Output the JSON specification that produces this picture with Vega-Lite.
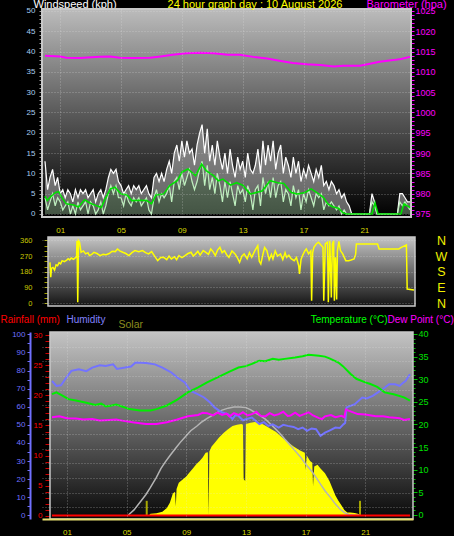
{
 "$schema": "https://vega.github.io/schema/vega-lite/v6.json",
 "background": "#000000",
 "padding": {"top": -2, "left": 0, "right": 0, "bottom": 0},
 "bounds": "flush",
 "spacing": 20,
 "config": {
  "view": {"stroke": null},
  "font": "Liberation Sans",
  "axis": {"labelFont": "Liberation Sans", "titleFont": "Liberation Sans", "titleFontWeight": "normal", "titleFontSize": 11, "labelFontSize": 8, "labelOverlap": false, "gridColor": "#e8e8e8", "gridDash": [1, 2], "gridOpacity": 0.4}
 },
 "datasets": {
  "wind": [
   {"t":0,"g":13,"s":4},{"t":0.17,"g":6,"s":1},{"t":0.33,"g":9,"s":3},{"t":0.5,"g":11,"s":5},{"t":0.67,"g":7,"s":2},{"t":0.83,"g":9,"s":4},
   {"t":1,"g":5,"s":3},{"t":1.17,"g":6,"s":1},{"t":1.33,"g":4,"s":2},{"t":1.5,"g":6,"s":3},{"t":1.67,"g":5,"s":0},{"t":1.83,"g":3,"s":2},
   {"t":2,"g":6,"s":0},{"t":2.17,"g":4,"s":3},{"t":2.33,"g":6,"s":1},{"t":2.5,"g":5,"s":2},{"t":2.67,"g":6,"s":3},{"t":2.83,"g":4,"s":0},
   {"t":3,"g":5,"s":3},{"t":3.17,"g":6,"s":2},{"t":3.33,"g":3,"s":0},{"t":3.5,"g":5,"s":1},{"t":3.67,"g":6,"s":3},{"t":3.83,"g":4,"s":0},
   {"t":4,"g":6,"s":2},{"t":4.17,"g":9,"s":5},{"t":4.33,"g":11,"s":7},{"t":4.5,"g":10,"s":5},{"t":4.67,"g":11,"s":7},{"t":4.83,"g":8,"s":4},
   {"t":5,"g":7,"s":4},{"t":5.17,"g":5,"s":2},{"t":5.33,"g":6,"s":5},{"t":5.5,"g":7,"s":3},{"t":5.67,"g":5,"s":2},{"t":5.83,"g":7,"s":4},
   {"t":6,"g":6,"s":3},{"t":6.17,"g":7,"s":4},{"t":6.33,"g":5,"s":2},{"t":6.5,"g":6,"s":3},{"t":6.67,"g":7,"s":4},{"t":6.83,"g":5,"s":1},
   {"t":7,"g":4,"s":0},{"t":7.17,"g":9,"s":4},{"t":7.33,"g":10,"s":6},{"t":7.5,"g":8,"s":3},{"t":7.67,"g":10,"s":5},{"t":7.83,"g":8,"s":4},
   {"t":8,"g":11,"s":5},{"t":8.17,"g":13,"s":7},{"t":8.33,"g":10,"s":3},{"t":8.5,"g":15,"s":8},{"t":8.67,"g":17,"s":9},{"t":8.83,"g":13,"s":6},
   {"t":9,"g":18,"s":10},{"t":9.17,"g":14,"s":7},{"t":9.33,"g":18,"s":9},{"t":9.5,"g":15,"s":11},{"t":9.67,"g":16,"s":8},{"t":9.83,"g":12,"s":6},
   {"t":10,"g":17,"s":8},{"t":10.17,"g":20,"s":11},{"t":10.33,"g":22,"s":13},{"t":10.5,"g":15,"s":7},{"t":10.67,"g":21,"s":12},{"t":10.83,"g":13,"s":6},
   {"t":11,"g":17,"s":9},{"t":11.17,"g":12,"s":5},{"t":11.33,"g":18,"s":10},{"t":11.5,"g":14,"s":7},{"t":11.67,"g":11,"s":3},{"t":11.83,"g":15,"s":8},
   {"t":12,"g":10,"s":4},{"t":12.17,"g":16,"s":8},{"t":12.33,"g":12,"s":5},{"t":12.5,"g":9,"s":2},{"t":12.67,"g":14,"s":7},{"t":12.83,"g":11,"s":5},
   {"t":13,"g":13,"s":6},{"t":13.17,"g":9,"s":3},{"t":13.33,"g":15,"s":7},{"t":13.5,"g":11,"s":5},{"t":13.67,"g":10,"s":1},{"t":13.83,"g":12,"s":6},
   {"t":14,"g":16,"s":7},{"t":14.17,"g":10,"s":2},{"t":14.33,"g":18,"s":9},{"t":14.5,"g":12,"s":5},{"t":14.67,"g":17,"s":8},{"t":14.83,"g":13,"s":4},
   {"t":15,"g":18,"s":9},{"t":15.17,"g":11,"s":4},{"t":15.33,"g":15,"s":7},{"t":15.5,"g":17,"s":8},{"t":15.67,"g":10,"s":3},{"t":15.83,"g":14,"s":6},
   {"t":16,"g":12,"s":5},{"t":16.17,"g":9,"s":2},{"t":16.33,"g":14,"s":7},{"t":16.5,"g":10,"s":4},{"t":16.67,"g":13,"s":6},{"t":16.83,"g":8,"s":1},
   {"t":17,"g":11,"s":5},{"t":17.17,"g":9,"s":3},{"t":17.33,"g":12,"s":6},{"t":17.5,"g":10,"s":4},{"t":17.67,"g":8,"s":2},{"t":17.83,"g":11,"s":5},
   {"t":18,"g":9,"s":4},{"t":18.17,"g":12,"s":5},{"t":18.33,"g":7,"s":1},{"t":18.5,"g":8,"s":3},{"t":18.67,"g":6,"s":2},{"t":18.83,"g":8,"s":3},
   {"t":19,"g":7,"s":2},{"t":19.17,"g":5,"s":1},{"t":19.33,"g":6,"s":2},{"t":19.5,"g":4,"s":0},{"t":19.67,"g":5,"s":1},{"t":19.83,"g":3,"s":0},
   {"t":20,"g":2,"s":0},{"t":20.17,"g":0,"s":0},{"t":20.33,"g":0,"s":0},{"t":20.5,"g":0,"s":0},{"t":20.67,"g":0,"s":0},{"t":20.83,"g":0,"s":0},
   {"t":21,"g":0,"s":0},{"t":21.17,"g":0,"s":0},{"t":21.33,"g":0,"s":0},{"t":21.5,"g":5,"s":3},{"t":21.67,"g":3,"s":2},{"t":21.83,"g":0,"s":0},
   {"t":22,"g":0,"s":0},{"t":22.17,"g":0,"s":0},{"t":22.33,"g":0,"s":0},{"t":22.5,"g":0,"s":0},{"t":22.67,"g":0,"s":0},{"t":22.83,"g":0,"s":0},
   {"t":23,"g":0,"s":0},{"t":23.17,"g":0,"s":0},{"t":23.33,"g":5,"s":3},{"t":23.5,"g":5,"s":2},{"t":23.67,"g":4,"s":3},{"t":23.83,"g":3,"s":2},
   {"t":24,"g":3,"s":1}
  ],
  "avg": [
   {"t":0,"v":4.4},{"t":0.15,"v":3.3},{"t":0.4,"v":4.4},{"t":0.7,"v":5.3},{"t":0.9,"v":5.5},{"t":1.1,"v":4.1},{"t":1.4,"v":2.5},{"t":1.9,"v":2.2},{"t":2.2,"v":1.7},{"t":2.6,"v":3.5},{"t":2.95,"v":2.7},{"t":3.4,"v":2.0},{"t":3.7,"v":1.6},{"t":3.9,"v":3.3},{"t":4.3,"v":6.2},{"t":4.6,"v":6.6},{"t":5.0,"v":4.9},{"t":5.4,"v":4.7},{"t":5.7,"v":3.3},{"t":6.3,"v":3.4},{"t":6.7,"v":3.3},{"t":7.0,"v":2.5},{"t":7.3,"v":4.7},{"t":7.8,"v":4.9},{"t":8.2,"v":7.0},{"t":8.7,"v":8.2},{"t":9.0,"v":10.3},{"t":9.4,"v":11.1},{"t":9.9,"v":9.4},{"t":10.3,"v":12.3},{"t":10.6,"v":10.7},{"t":11.1,"v":9.4},{"t":11.4,"v":8.2},{"t":11.7,"v":8.6},{"t":12.2,"v":7.1},{"t":12.6,"v":7.7},{"t":13.0,"v":7.1},{"t":13.5,"v":4.9},{"t":13.9,"v":5.3},{"t":14.3,"v":5.7},{"t":14.8,"v":8.2},{"t":15.3,"v":7.7},{"t":15.7,"v":7.5},{"t":16.2,"v":5.3},{"t":16.6,"v":4.9},{"t":17.1,"v":5.3},{"t":17.5,"v":6.2},{"t":17.9,"v":5.2},{"t":18.3,"v":4.1},{"t":18.6,"v":2.5},{"t":18.9,"v":1.8},{"t":19.3,"v":1.4},{"t":19.6,"v":0.3},{"t":19.8,"v":0},{"t":21.5,"v":0},{"t":21.7,"v":2.7},{"t":21.9,"v":0},{"t":23.4,"v":0},{"t":23.6,"v":2.5},{"t":24,"v":1.6}
  ],
  "baro": [
   {"t":0,"v":1014.0},{"t":1.0,"v":1013.8},{"t":1.4,"v":1013.5},{"t":2.3,"v":1013.4},{"t":3.6,"v":1013.7},{"t":4.3,"v":1013.8},{"t":4.9,"v":1013.5},{"t":5.8,"v":1013.4},{"t":6.9,"v":1013.5},{"t":7.6,"v":1013.8},{"t":8.4,"v":1014.2},{"t":9.3,"v":1014.6},{"t":10.2,"v":1014.7},{"t":11.1,"v":1014.6},{"t":12.0,"v":1014.2},{"t":12.8,"v":1014.2},{"t":13.7,"v":1013.7},{"t":14.6,"v":1013.3},{"t":15.5,"v":1012.7},{"t":16.3,"v":1012.2},{"t":17.2,"v":1011.9},{"t":18.1,"v":1011.7},{"t":19.0,"v":1011.3},{"t":19.6,"v":1011.5},{"t":20.7,"v":1011.5},{"t":21.2,"v":1011.9},{"t":22.0,"v":1012.5},{"t":22.9,"v":1012.9},{"t":23.4,"v":1013.2},{"t":24.0,"v":1013.7}
  ],
  "dir": [
   {"t":0,"v":234},{"t":0.05,"v":148},{"t":0.1,"v":200},{"t":0.2,"v":205},{"t":0.3,"v":190},{"t":0.4,"v":220},{"t":0.5,"v":215},{"t":0.6,"v":232},{"t":0.7,"v":225},{"t":0.8,"v":244},{"t":0.95,"v":238},{"t":1.1,"v":247},{"t":1.2,"v":255},{"t":1.3,"v":248},{"t":1.4,"v":259},{"t":1.55,"v":252},{"t":1.7,"v":263},{"t":1.75,"v":262},{"t":1.78,"v":359},{"t":1.83,"v":4},{"t":1.88,"v":359},{"t":1.95,"v":350},{"t":2.05,"v":292},{"t":2.2,"v":300},{"t":2.35,"v":283},{"t":2.5,"v":290},{"t":2.6,"v":273},{"t":2.75,"v":280},{"t":2.9,"v":292},{"t":3.1,"v":285},{"t":3.3,"v":273},{"t":3.5,"v":280},{"t":3.7,"v":278},{"t":3.9,"v":285},{"t":4.1,"v":298},{"t":4.3,"v":296},{"t":4.45,"v":311},{"t":4.6,"v":300},{"t":4.8,"v":292},{"t":5.0,"v":285},{"t":5.2,"v":273},{"t":5.4,"v":290},{"t":5.6,"v":302},{"t":5.85,"v":295},{"t":6.1,"v":302},{"t":6.3,"v":290},{"t":6.5,"v":283},{"t":6.7,"v":296},{"t":6.9,"v":270},{"t":7.1,"v":244},{"t":7.3,"v":262},{"t":7.5,"v":263},{"t":7.7,"v":250},{"t":7.85,"v":270},{"t":8.0,"v":254},{"t":8.2,"v":266},{"t":8.35,"v":250},{"t":8.5,"v":273},{"t":8.7,"v":262},{"t":8.9,"v":273},{"t":9.1,"v":285},{"t":9.3,"v":292},{"t":9.45,"v":270},{"t":9.6,"v":283},{"t":9.75,"v":298},{"t":9.9,"v":276},{"t":10.1,"v":302},{"t":10.3,"v":290},{"t":10.45,"v":280},{"t":10.6,"v":311},{"t":10.75,"v":296},{"t":10.9,"v":273},{"t":11.05,"v":305},{"t":11.2,"v":321},{"t":11.35,"v":290},{"t":11.5,"v":301},{"t":11.65,"v":278},{"t":11.8,"v":263},{"t":12.0,"v":300},{"t":12.2,"v":283},{"t":12.35,"v":262},{"t":12.5,"v":234},{"t":12.65,"v":270},{"t":12.8,"v":283},{"t":13.0,"v":255},{"t":13.15,"v":290},{"t":13.3,"v":263},{"t":13.5,"v":300},{"t":13.7,"v":330},{"t":13.8,"v":240},{"t":13.9,"v":225},{"t":14.05,"v":285},{"t":14.15,"v":320},{"t":14.3,"v":302},{"t":14.45,"v":250},{"t":14.6,"v":280},{"t":14.7,"v":254},{"t":14.85,"v":300},{"t":15.0,"v":270},{"t":15.2,"v":283},{"t":15.35,"v":250},{"t":15.5,"v":290},{"t":15.6,"v":263},{"t":15.75,"v":275},{"t":15.9,"v":255},{"t":16.1,"v":244},{"t":16.25,"v":262},{"t":16.4,"v":215},{"t":16.45,"v":167},{"t":16.55,"v":250},{"t":16.65,"v":273},{"t":16.8,"v":300},{"t":16.9,"v":311},{"t":17.05,"v":283},{"t":17.2,"v":300},{"t":17.25,"v":13},{"t":17.32,"v":290},{"t":17.4,"v":321},{"t":17.55,"v":340},{"t":17.7,"v":350},{"t":17.85,"v":335},{"t":18.0,"v":321},{"t":18.05,"v":13},{"t":18.15,"v":340},{"t":18.3,"v":350},{"t":18.35,"v":4},{"t":18.45,"v":359},{"t":18.55,"v":32},{"t":18.62,"v":340},{"t":18.7,"v":359},{"t":18.75,"v":13},{"t":18.82,"v":263},{"t":18.9,"v":20},{"t":18.95,"v":302},{"t":19.05,"v":355},{"t":19.15,"v":302},{"t":19.3,"v":283},{"t":19.5,"v":244},{"t":19.7,"v":244},{"t":19.85,"v":248},{"t":20.05,"v":254},{"t":20.15,"v":280},{"t":20.2,"v":340},{"t":21.6,"v":340},{"t":21.7,"v":311},{"t":23.0,"v":311},{"t":23.1,"v":318},{"t":23.5,"v":335},{"t":23.55,"v":80},{"t":24.0,"v":75}
  ],
  "hum": [
   {"t":0,"v":74.2},{"t":0.3,"v":71.5},{"t":0.6,"v":71.8},{"t":0.95,"v":76},{"t":1.3,"v":79.8},{"t":1.8,"v":80.7},{"t":2.3,"v":79.6},{"t":2.7,"v":81.6},{"t":3.2,"v":82.9},{"t":3.6,"v":82.5},{"t":4.1,"v":83.4},{"t":4.35,"v":80.9},{"t":4.9,"v":81.6},{"t":5.3,"v":82.2},{"t":5.6,"v":84.4},{"t":6.3,"v":84.1},{"t":6.9,"v":83.4},{"t":7.4,"v":81.6},{"t":8.0,"v":78.9},{"t":8.4,"v":76.1},{"t":8.9,"v":73.4},{"t":9.3,"v":68.7},{"t":9.8,"v":66.8},{"t":10.2,"v":65.1},{"t":10.6,"v":62.3},{"t":10.9,"v":59.6},{"t":11.4,"v":56.8},{"t":11.8,"v":55.9},{"t":12.1,"v":53.1},{"t":12.3,"v":55.5},{"t":12.5,"v":54.9},{"t":12.8,"v":52.5},{"t":13.0,"v":53.1},{"t":13.4,"v":54},{"t":13.9,"v":50.4},{"t":14.2,"v":51.5},{"t":14.5,"v":49.4},{"t":14.8,"v":50.3},{"t":15.2,"v":48.5},{"t":15.5,"v":50},{"t":15.8,"v":49.4},{"t":16.2,"v":48.8},{"t":16.5,"v":47.6},{"t":16.8,"v":48.5},{"t":17.1,"v":46.7},{"t":17.4,"v":48},{"t":17.7,"v":47.6},{"t":18.0,"v":43.9},{"t":18.3,"v":45.7},{"t":18.6,"v":46.8},{"t":19.0,"v":48.5},{"t":19.3,"v":48.3},{"t":19.55,"v":50.4},{"t":19.65,"v":51},{"t":19.75,"v":59.6},{"t":20.3,"v":61.4},{"t":20.8,"v":65.1},{"t":21.1,"v":64.6},{"t":21.5,"v":66},{"t":22.0,"v":68.7},{"t":22.3,"v":70.5},{"t":22.6,"v":72.4},{"t":23.0,"v":72.4},{"t":23.3,"v":71.5},{"t":23.5,"v":73},{"t":23.7,"v":74.2},{"t":24.0,"v":77.9}
  ],
  "temp": [
   {"t":0,"v":26.7},{"t":0.3,"v":27.1},{"t":0.7,"v":26.4},{"t":1.1,"v":25.6},{"t":1.6,"v":25.3},{"t":2.3,"v":24.8},{"t":2.9,"v":24.3},{"t":3.3,"v":24.6},{"t":3.6,"v":24.0},{"t":4.0,"v":24.2},{"t":4.3,"v":24.4},{"t":4.6,"v":24.1},{"t":5.2,"v":23.4},{"t":5.9,"v":23.1},{"t":6.6,"v":23.1},{"t":7.0,"v":23.4},{"t":7.7,"v":24.2},{"t":8.4,"v":25.5},{"t":9.1,"v":27.1},{"t":9.8,"v":28.2},{"t":10.4,"v":29.3},{"t":11.1,"v":30.4},{"t":11.9,"v":31.7},{"t":12.5,"v":32.6},{"t":13.0,"v":32.9},{"t":13.4,"v":33.4},{"t":13.9,"v":34.1},{"t":14.3,"v":34.0},{"t":14.8,"v":34.5},{"t":15.2,"v":34.3},{"t":15.6,"v":34.5},{"t":16.3,"v":34.8},{"t":16.8,"v":35.1},{"t":17.2,"v":35.4},{"t":17.9,"v":35.2},{"t":18.3,"v":35.0},{"t":18.6,"v":34.6},{"t":19.2,"v":33.7},{"t":19.5,"v":32.9},{"t":20.0,"v":31.2},{"t":20.4,"v":30.1},{"t":21.0,"v":29.3},{"t":21.3,"v":29.0},{"t":21.8,"v":28.3},{"t":22.3,"v":27.1},{"t":22.9,"v":26.7},{"t":23.6,"v":26.0},{"t":24.0,"v":25.3}
  ],
  "dew": [
   {"t":0,"v":21.6},{"t":0.5,"v":21.8},{"t":1.0,"v":21.4},{"t":1.6,"v":21.3},{"t":2.1,"v":21.1},{"t":2.7,"v":21.2},{"t":3.2,"v":20.9},{"t":3.8,"v":21.0},{"t":4.3,"v":21.1},{"t":4.8,"v":20.8},{"t":5.4,"v":20.5},{"t":5.9,"v":20.3},{"t":6.3,"v":20.1},{"t":7.0,"v":20.1},{"t":7.7,"v":20.5},{"t":8.4,"v":21.1},{"t":9.1,"v":21.8},{"t":9.8,"v":22.1},{"t":10.1,"v":22.6},{"t":10.4,"v":22.5},{"t":10.8,"v":22.0},{"t":11.1,"v":22.6},{"t":11.4,"v":22.1},{"t":11.7,"v":22.4},{"t":11.9,"v":21.8},{"t":12.2,"v":22.5},{"t":12.5,"v":22.1},{"t":12.8,"v":22.7},{"t":13.1,"v":22.0},{"t":13.4,"v":22.3},{"t":13.7,"v":22.8},{"t":14.0,"v":21.9},{"t":14.3,"v":21.8},{"t":14.6,"v":22.5},{"t":14.9,"v":22.0},{"t":15.2,"v":22.3},{"t":15.5,"v":22.8},{"t":15.8,"v":21.9},{"t":16.0,"v":22.0},{"t":16.3,"v":22.6},{"t":16.6,"v":21.9},{"t":16.9,"v":22.3},{"t":17.2,"v":22.7},{"t":17.5,"v":22.0},{"t":17.9,"v":21.4},{"t":18.1,"v":21.2},{"t":18.3,"v":21.8},{"t":18.7,"v":22.1},{"t":19.0,"v":21.6},{"t":19.4,"v":21.9},{"t":19.6,"v":21.6},{"t":19.7,"v":23.3},{"t":20.1,"v":22.8},{"t":20.5,"v":22.3},{"t":21.0,"v":22.2},{"t":21.7,"v":21.8},{"t":22.2,"v":21.8},{"t":22.6,"v":21.6},{"t":23.0,"v":21.5},{"t":23.3,"v":21.4},{"t":23.6,"v":21.0},{"t":24.0,"v":21.2}
  ],
  "solar": [
   {"t":6.5,"v":0},{"t":6.6,"v":8},{"t":7.0,"v":12},{"t":7.4,"v":20},{"t":7.7,"v":40},{"t":7.9,"v":70},{"t":8.1,"v":120},{"t":8.25,"v":130},{"t":8.3,"v":50},{"t":8.35,"v":145},{"t":8.5,"v":180},{"t":8.8,"v":200},{"t":9.0,"v":215},{"t":9.2,"v":235},{"t":9.4,"v":255},{"t":9.7,"v":285},{"t":9.9,"v":300},{"t":10.1,"v":320},{"t":10.3,"v":345},{"t":10.45,"v":348},{"t":10.5,"v":0},{"t":10.55,"v":352},{"t":10.7,"v":380},{"t":10.9,"v":400},{"t":11.2,"v":430},{"t":11.5,"v":455},{"t":11.8,"v":476},{"t":12.1,"v":494},{"t":12.4,"v":500},{"t":12.7,"v":505},{"t":12.8,"v":500},{"t":12.85,"v":200},{"t":12.95,"v":190},{"t":13.0,"v":505},{"t":13.3,"v":512},{"t":13.6,"v":515},{"t":13.9,"v":510},{"t":14.1,"v":505},{"t":14.4,"v":490},{"t":14.7,"v":475},{"t":15.0,"v":462},{"t":15.4,"v":432},{"t":15.8,"v":405},{"t":16.2,"v":380},{"t":16.6,"v":360},{"t":16.95,"v":345},{"t":17.0,"v":250},{"t":17.08,"v":330},{"t":17.3,"v":300},{"t":17.45,"v":290},{"t":17.5,"v":160},{"t":17.58,"v":270},{"t":17.8,"v":280},{"t":18.0,"v":258},{"t":18.3,"v":232},{"t":18.6,"v":190},{"t":18.8,"v":150},{"t":19.0,"v":110},{"t":19.2,"v":80},{"t":19.4,"v":55},{"t":19.6,"v":30},{"t":19.8,"v":15},{"t":20.0,"v":16},{"t":20.3,"v":13},{"t":20.5,"v":8},{"t":20.7,"v":0}
  ],
  "theo": [
   {"t":5.1,"v":0},{"t":5.5,"v":30},{"t":5.9,"v":72},{"t":6.3,"v":115},{"t":6.6,"v":154},{"t":7.0,"v":210},{"t":7.3,"v":258},{"t":7.6,"v":295},{"t":7.9,"v":329},{"t":8.3,"v":372},{"t":8.6,"v":403},{"t":9.0,"v":440},{"t":9.3,"v":467},{"t":9.7,"v":492},{"t":10.0,"v":513},{"t":10.4,"v":535},{"t":10.7,"v":549},{"t":11.0,"v":565},{"t":11.4,"v":581},{"t":11.8,"v":592},{"t":12.2,"v":598},{"t":12.6,"v":599},{"t":13.0,"v":595},{"t":13.3,"v":584},{"t":13.6,"v":568},{"t":14.0,"v":548},{"t":14.3,"v":531},{"t":14.7,"v":500},{"t":15.0,"v":476},{"t":15.3,"v":450},{"t":15.6,"v":421},{"t":16.0,"v":385},{"t":16.3,"v":356},{"t":16.7,"v":318},{"t":17.0,"v":283},{"t":17.4,"v":245},{"t":17.7,"v":210},{"t":18.0,"v":172},{"t":18.3,"v":136},{"t":18.7,"v":95},{"t":19.0,"v":62},{"t":19.3,"v":35},{"t":19.6,"v":15},{"t":19.9,"v":5},{"t":20.3,"v":1},{"t":20.6,"v":0}
  ],
  "olive": [{"t":6.35,"v":80},{"t":20.65,"v":80}],
  "rain": [{"t":0,"v":0},{"t":24,"v":0}]
 },
 "vconcat": [
  {
   "width": 369, "height": 208,
   "layer": [
    {
     "data": {"values": [{"k": 1}]},
     "mark": {"type": "rect", "fill": {"gradient": "linear", "x1": 0, "y1": 0, "x2": 0, "y2": 1, "stops": [{"offset": 0, "color": "#bcbcbc"}, {"offset": 0.5, "color": "#5a5a5a"}, {"offset": 1, "color": "#000000"}]}, "stroke": "#c8c8c8", "strokeWidth": 2},
     "encoding": {
      "x": {"datum": -0.197, "type": "quantitative", "title": null, "scale": {"domain": [-0.197, 24.066], "nice": false, "zero": false},
            "axis": {"values": [1,3,5,7,9,11,13,15,17,19,21,23], "labelExpr": "datum.value < 10 ? '0' + datum.value : '' + datum.value", "labelOverlap": false, "labelColor": "#d8d800", "labelFontSize": 8, "labelPadding": 9, "ticks": false, "domain": false, "grid": true, "zindex": 1, "title": null}},
      "x2": {"datum": 24.066},
      "y": {"datum": -0.74, "type": "quantitative", "scale": {"domain": [-0.74, 50.49], "nice": false, "zero": false},
            "axis": {"orient": "left", "values": [0,5,10,15,20,25,30,35,40,45,50], "labels": false, "ticks": false, "domain": false, "grid": true, "zindex": 1, "title": "24 hour graph day : 10 August 2026", "titleColor": "#ffff00", "titleAngle": 0, "titleAlign": "center", "titleBaseline": "alphabetic", "titleX": 212.5, "titleY": -2}},
      "y2": {"datum": 50.49}
     }
    },
    {"data": {"name": "wind"}, "mark": {"type": "area", "color": "#d8d8d8", "opacity": 0.45},
     "encoding": {"x": {"field": "t", "type": "quantitative", "title": null},
      "y": {"field": "g", "type": "quantitative", "scale": {"domain": [-0.74, 50.49], "nice": false, "zero": false},
            "axis": {"orient": "left", "values": [0,1,2,3,4,5,6,7,8,9,10,11,12,13,14,15,16,17,18,19,20,21,22,23,24,25,26,27,28,29,30,31,32,33,34,35,36,37,38,39,40,41,42,43,44,45,46,47,48,49,50], "labelExpr": "datum.value % 5 === 0 ? '' + datum.value : ''", "labelOverlap": false, "labelColor": "#a8cdf0", "labelFontSize": 8, "tickColor": "#a0a0a0", "tickSize": 3, "labelPadding": 4, "domain": false, "grid": false, "title": "Windspeed (kph)", "titleColor": "#ffffff", "titleAngle": 0, "titleAlign": "left", "titleBaseline": "alphabetic", "titleX": -9, "titleY": -2}},
      "y2": {"field": "s"}}},
    {"data": {"name": "wind"}, "mark": {"type": "area", "color": "#bff0bf", "opacity": 0.35},
     "encoding": {"x": {"field": "t", "type": "quantitative", "title": null},
      "y": {"field": "s", "type": "quantitative", "scale": {"domain": [-0.74, 50.49], "nice": false, "zero": false}, "axis": null},
      "y2": {"datum": 0}}},
    {"data": {"name": "wind"}, "mark": {"type": "line", "color": "#ffffff", "strokeWidth": 1.2},
     "encoding": {"x": {"field": "t", "type": "quantitative", "title": null},
      "y": {"field": "g", "type": "quantitative", "scale": {"domain": [-0.74, 50.49], "nice": false, "zero": false}, "axis": null}}},
    {"data": {"name": "wind"}, "mark": {"type": "line", "color": "#bff0bf", "strokeWidth": 1.2},
     "encoding": {"x": {"field": "t", "type": "quantitative", "title": null},
      "y": {"field": "s", "type": "quantitative", "scale": {"domain": [-0.74, 50.49], "nice": false, "zero": false}, "axis": null}}},
    {"data": {"name": "avg"}, "mark": {"type": "line", "color": "#00e000", "strokeWidth": 1.6},
     "encoding": {"x": {"field": "t", "type": "quantitative", "title": null},
      "y": {"field": "v", "type": "quantitative", "scale": {"domain": [-0.74, 50.49], "nice": false, "zero": false}, "axis": null}}},
    {"data": {"name": "baro"}, "mark": {"type": "line", "color": "#ff00ff", "strokeWidth": 2},
     "encoding": {"x": {"field": "t", "type": "quantitative", "title": null},
      "y": {"field": "v", "type": "quantitative", "scale": {"domain": [974.26, 1025.49], "nice": false, "zero": false},
            "axis": {"orient": "right", "values": [975,976,977,978,979,980,981,982,983,984,985,986,987,988,989,990,991,992,993,994,995,996,997,998,999,1000,1001,1002,1003,1004,1005,1006,1007,1008,1009,1010,1011,1012,1013,1014,1015,1016,1017,1018,1019,1020,1021,1022,1023,1024,1025], "labelExpr": "datum.value % 5 === 0 ? '' + datum.value : ''", "labelOverlap": false, "labelColor": "#ff00ff", "labelFontSize": 9, "tickColor": "#ff00ff", "tickSize": 3, "labelPadding": 1, "domain": false, "grid": false, "title": "Barometer (hpa)", "titleColor": "#ff00ff", "titleAngle": 0, "titleAlign": "left", "titleBaseline": "alphabetic", "titleX": -45, "titleY": -2}}}}
   ],
   "resolve": {"scale": {"y": "independent"}}
  },
  {
   "width": 373, "height": 75,
   "layer": [
    {
     "data": {"values": [{"k": 1}]},
     "mark": {"type": "rect", "fill": {"gradient": "linear", "x1": 0, "y1": 0, "x2": 0, "y2": 1, "stops": [{"offset": 0, "color": "#c4c4c4"}, {"offset": 1, "color": "#141414"}]}, "stroke": "#c8c8c8", "strokeWidth": 1.5},
     "encoding": {
      "x": {"datum": -0.132, "type": "quantitative", "title": null, "scale": {"domain": [-0.527, 24.066], "nice": false, "zero": false}, "axis": null},
      "x2": {"datum": 24.066},
      "y": {"datum": -17.28, "type": "quantitative", "scale": {"domain": [-51.84, 380.16], "nice": false, "zero": false},
            "axis": {"orient": "right", "values": [0, 90, 180, 270, 360], "labelExpr": "datum.value == 90 ? 'E' : datum.value == 180 ? 'S' : datum.value == 270 ? 'W' : 'N'", "labelOverlap": false, "labelColor": "#f0f000", "labelFontSize": 12.5, "labelAlign": "center", "labelPadding": 26, "ticks": false, "domain": false, "grid": true, "zindex": 1, "title": null}},
      "y2": {"datum": 380.16}
     }
    },
    {"data": {"name": "dir"}, "mark": {"type": "line", "color": "#ffff00", "strokeWidth": 1.5},
     "encoding": {"x": {"field": "t", "type": "quantitative", "title": null, "axis": null},
      "y": {"field": "v", "type": "quantitative", "scale": {"domain": [-51.84, 380.16], "nice": false, "zero": false},
            "axis": {"orient": "left", "offset": -6, "values": [0,30,60,90,120,150,180,210,240,270,300,330,360], "labelExpr": "datum.value % 90 === 0 ? '' + datum.value : ''", "labelOverlap": false, "labelColor": "#c8c800", "labelFontSize": 7.5, "tickColor": "#a0a000", "tickSize": 4, "labelPadding": 12, "domain": false, "grid": false, "title": null}}}}
   ],
   "resolve": {"scale": {"y": "independent"}}
  },
  {
   "width": 371, "height": 187,
   "layer": [
    {
     "data": {"values": [{"k": 1}]},
     "mark": {"type": "rect", "fill": {"gradient": "linear", "x1": 0, "y1": 0, "x2": 0, "y2": 1, "stops": [{"offset": 0, "color": "#c4c4c4"}, {"offset": 0.5, "color": "#666666"}, {"offset": 1, "color": "#080808"}]}, "stroke": "#c8c8c8", "strokeWidth": 1.5},
     "encoding": {
      "x": {"datum": -0.134, "type": "quantitative", "title": null, "scale": {"domain": [-0.670, 24.201], "nice": false, "zero": false},
            "axis": {"values": [1,3,5,7,9,11,13,15,17,19,21,23], "labelExpr": "datum.value < 10 ? '0' + datum.value : '' + datum.value", "labelOverlap": false, "labelColor": "#d8d800", "labelFontSize": 8, "labelPadding": 9, "ticks": false, "domain": true, "domainColor": "#e8e070", "domainWidth": 2, "grid": true, "zindex": 1, "title": null}},
      "x2": {"datum": 24.201},
      "y": {"datum": 0, "type": "quantitative", "scale": {"domain": [0, 12.81], "nice": false, "zero": false, "reverse": true},
            "axis": {"orient": "left", "values": [1,2,3,4,5,6,7,8,9,10,11,12], "labels": false, "ticks": false, "domain": false, "grid": true, "zindex": 1, "title": null}},
      "y2": {"datum": 12.81}
     }
    },
    {
     "layer": [
      {"data": {"name": "solar"}, "mark": {"type": "area", "color": "#ffff00"},
       "encoding": {"x": {"field": "t", "type": "quantitative", "title": null},
        "y": {"field": "v", "type": "quantitative", "scale": {"domain": [-20.4, 1012.7], "nice": false, "zero": false},
              "axis": {"orient": "left", "labels": false, "ticks": false, "domain": false, "grid": false, "title": "Solar", "titleColor": "#8c8c1e", "titleFontSize": 10.5, "titleAngle": 0, "titleAlign": "left", "titleBaseline": "alphabetic", "titleX": 76, "titleY": -4.5}},
        "y2": {"datum": 0}}},
      {"data": {"name": "theo"}, "mark": {"type": "line", "color": "#b4b4b4", "strokeWidth": 1.5},
       "encoding": {"x": {"field": "t", "type": "quantitative", "title": null}, "y": {"field": "v", "type": "quantitative"}}},
      {"data": {"name": "olive"}, "mark": {"type": "rule", "color": "#a8a800", "strokeWidth": 2},
       "encoding": {"x": {"field": "t", "type": "quantitative", "title": null}, "y": {"field": "v", "type": "quantitative"}, "y2": {"datum": 0}}}
     ]
    },
    {"data": {"name": "hum"}, "mark": {"type": "line", "color": "#7373ff", "strokeWidth": 2},
     "encoding": {"x": {"field": "t", "type": "quantitative", "title": null},
      "y": {"field": "v", "type": "quantitative", "scale": {"domain": [-2.04, 101.27], "nice": false, "zero": false},
            "axis": {"orient": "left", "offset": 12, "values": [0,5,10,15,20,25,30,35,40,45,50,55,60,65,70,75,80,85,90,95,100], "labelExpr": "datum.value % 10 === 0 ? '' + datum.value : ''", "labelOverlap": false, "labelColor": "#7070ff", "labelFontSize": 8, "tickColor": "#7070ff", "tickSize": 3, "labelPadding": 2, "domain": true, "domainColor": "#7070ff", "domainWidth": 2, "grid": false, "title": "Humidity", "titleColor": "#8080ff", "titleFontSize": 10, "titleAngle": 0, "titleAlign": "left", "titleBaseline": "alphabetic", "titleX": 36, "titleY": -9.5}}}},
    {"data": {"name": "temp"}, "mark": {"type": "line", "color": "#00ee00", "strokeWidth": 2},
     "encoding": {"x": {"field": "t", "type": "quantitative", "title": null},
      "y": {"field": "v", "type": "quantitative", "scale": {"domain": [-0.884, 40.44], "nice": false, "zero": false},
            "axis": {"orient": "right", "values": [0,5,10,15,20,25,30,35,40], "labelOverlap": false, "labelColor": "#00e000", "labelFontSize": 9, "tickColor": "#00c000", "tickSize": 4, "labelPadding": 1, "domain": false, "grid": false, "title": "Temperature (°C)", "titleColor": "#00ff00", "titleFontSize": 10, "titleAngle": 0, "titleAlign": "right", "titleBaseline": "alphabetic", "titleX": -26, "titleY": -9.5}}}},
    {"data": {"name": "dew"}, "mark": {"type": "line", "color": "#ff00ff", "strokeWidth": 2},
     "encoding": {"x": {"field": "t", "type": "quantitative", "title": null},
      "y": {"field": "v", "type": "quantitative", "scale": {"domain": [-0.884, 40.44], "nice": false, "zero": false},
            "axis": {"orient": "right", "values": [0,1,2,3,4,5,6,7,8,9,10,11,12,13,14,15,16,17,18,19,20,21,22,23,24,25,26,27,28,29,30,31,32,33,34,35,36,37,38,39,40], "labels": false, "tickColor": "#00c000", "tickSize": 2, "domain": false, "grid": false, "title": "Dew Point (°C)", "titleColor": "#ff00ff", "titleFontSize": 10, "titleAngle": 0, "titleAlign": "left", "titleBaseline": "alphabetic", "titleX": -26, "titleY": -9.5}}}},
    {"data": {"name": "rain"}, "mark": {"type": "line", "color": "#ff0000", "strokeWidth": 2},
     "encoding": {"x": {"field": "t", "type": "quantitative", "title": null},
      "y": {"field": "v", "type": "quantitative", "scale": {"domain": [-0.58, 30.58], "nice": false, "zero": false},
            "axis": {"orient": "left", "offset": -8, "values": [0,1,2,3,4,5,6,7,8,9,10,11,12,13,14,15,16,17,18,19,20,21,22,23,24,25,26,27,28,29,30], "labelExpr": "datum.value % 5 === 0 ? '' + datum.value : ''", "labelOverlap": false, "labelColor": "#ff0000", "labelFontSize": 8, "tickColor": "#d00000", "tickSize": 5, "labelPadding": 3, "domain": false, "grid": false, "title": "Rainfall (mm)", "titleColor": "#ff0000", "titleFontSize": 10, "titleAngle": 0, "titleAlign": "left", "titleBaseline": "alphabetic", "titleX": -50, "titleY": -9.5}}}}
   ],
   "resolve": {"scale": {"y": "independent"}}
  }
 ]
}
